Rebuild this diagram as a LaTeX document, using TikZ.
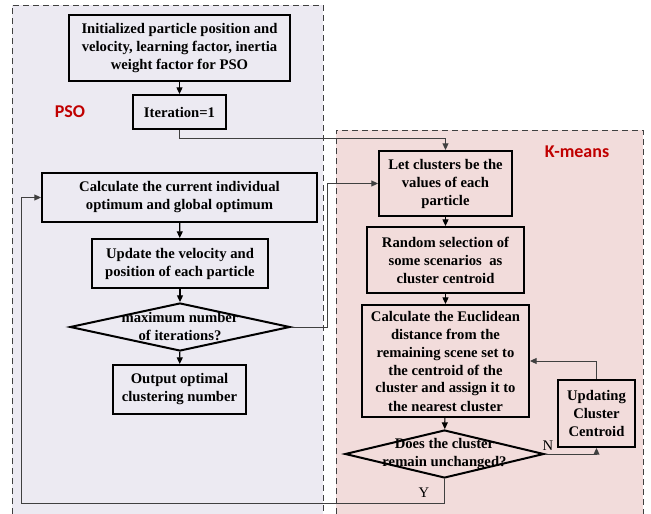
\documentclass[tikz,border=0pt]{standalone}
\usepackage{fontspec}
\setmainfont{Liberation Serif}
\newfontfamily\lblfont{Carlito}
\usetikzlibrary{shapes.geometric,arrows.meta}

\definecolor{psofill}{RGB}{236,234,242}
\definecolor{kmfill}{RGB}{242,220,219}
\definecolor{lblred}{RGB}{192,0,0}
\definecolor{edgegray}{RGB}{64,64,64}

\tikzset{
	sz/.style 2 args={minimum width=#1*0.75pt, minimum height=#2*0.75pt},
	box/.style={draw, line width=1.5pt, inner sep=0pt, align=center,
		font=\fontsize{11}{13.5}\selectfont\bfseries},
	decision/.style={draw, diamond, line width=1.5pt, inner sep=0pt},
	dectext/.style={inner sep=0pt, align=center, font=\fontsize{11}{13.5}\selectfont\bfseries},
	arr/.style={-{Triangle[length=5pt,width=4.5pt]}, line width=0.9pt},
	link/.style={-{Triangle[length=5pt,width=4.5pt]}, line width=0.75pt, draw=edgegray},
	panel/.style={dashed, dash pattern=on 4.5pt off 3pt, line width=0.6pt, draw=edgegray},
	panellabel/.style={font=\lblfont\fontsize{13.5}{15}\selectfont\bfseries, text=lblred}}
\tikzset{every picture/.style={line width=0.75pt}}

\begin{document}
\begin{tikzpicture}[x=0.75pt,y=0.75pt,yscale=-1,xscale=1]
	\useasboundingbox (0,0) rectangle (651,514);

	%Shape: Panel PSO
	\fill [psofill] (12,5) rectangle (323,514);
	\draw [panel] (12,514) -- (12,5) -- (323,5) -- (323,514);
	%Shape: Panel K-means
	\fill [kmfill] (336,130) rectangle (643,514);
	\draw [panel] (336,514) -- (336,130) -- (643,130) -- (643,514);

	% Text Node
	\node [panellabel] (psolbl) at (70,112) {PSO};
	% Text Node
	\node [panellabel] (kmlbl) at (577,152) {K-means};

	%Shape: Rectangle
	\node [box, sz={221}{66}] (init) at (179.5,48) {Initialized particle position and\\velocity, learning factor, inertia\\weight factor for PSO};
	%Shape: Rectangle
	\node [box, sz={93}{34}] (iter) at (179.5,112) {Iteration=1};
	%Shape: Rectangle
	\node [box, sz={275}{49}] (calc) at (179.5,197.5) {Calculate the current individual\\optimum and global optimum};
	%Shape: Rectangle
	\node [box, sz={176}{49}] (upd) at (180,263.5) {Update the velocity and\\position of each particle};
	%Shape: Diamond
	\node [decision, sz={220}{48}] (maxit) at (180,327) {};
	\node [dectext] (maxittxt) at (maxit.center) {maximum number\\of iterations?};
	%Shape: Rectangle
	\node [box, sz={133}{49}] (out) at (179.5,389.5) {Output optimal\\clustering number};

	%Shape: Rectangle
	\node [box, sz={133}{65}] (let) at (445.5,183.5) {Let clusters be the\\values of each\\particle};
	%Shape: Rectangle
	\node [box, sz={157}{66}] (rnd) at (445.5,260) {Random selection of\\some scenarios~ as\\cluster centroid};
	%Shape: Rectangle
	\node [box, sz={167}{112}] (euc) at (445.5,361) {Calculate the Euclidean\\distance from the\\remaining scene set to\\the centroid of the\\cluster and assign it to\\the nearest cluster};
	%Shape: Diamond
	\node [decision, sz={199}{48}] (same) at (444.5,454) {};
	\node [dectext] (sametxt) at (same.center) {Does the cluster\\remain unchanged?};
	%Shape: Rectangle
	\node [box, sz={77}{67}] (cent) at (596.5,413.5) {Updating\\Cluster\\Centroid};

	% Connectors
	\draw [arr] (init) -- (iter);
	\draw [arr] (calc) -- (upd);
	\draw [arr] (upd) -- (maxit);
	\draw [arr] (maxit) -- (out);
	\draw [arr] (let) -- (rnd);
	\draw [arr] (rnd) -- (euc);
	\draw [arr] (euc) -- (same);
	\draw [link] (iter.south) -- ++(0,8) -| (let.north);
	\draw [link] (maxit.east) -- ++(36,0) |- (let.west);
	\draw [link] (same.east) -| (cent.south);
	\draw [link] (cent.north) |- (euc.east);
	\draw [link] (same.south) -- ++(0,24) -| ([xshift=-15pt]calc.west) -- (calc.west);

	% Text Node
	\node [dectext, font=\fontsize{11}{13.5}\selectfont] (nlbl) at (548,446) {N};
	% Text Node
	\node [dectext, font=\fontsize{11}{13.5}\selectfont] (ylbl) at (424,493) {Y};

\end{tikzpicture}
\end{document}
